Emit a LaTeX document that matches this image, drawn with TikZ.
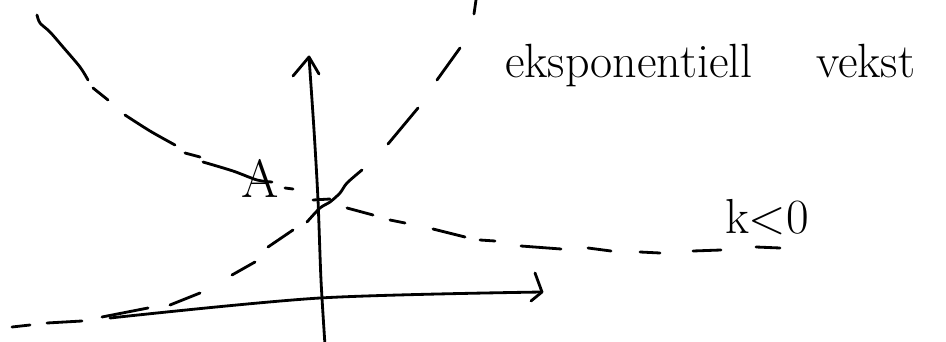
\documentclass[tikz,border=0pt]{standalone}
\tikzset{pen/.style={line width=2.4pt, line cap=round, line join=round},
  hand/.style={inner sep=0pt, outer sep=0pt}}
\begin{document}
\begin{tikzpicture}[x=0.03cm,y=-0.03cm]
\useasboundingbox (0,0) rectangle (946,342);
\clip (0,0) rectangle (946,342);
% vertical axis
\coordinate (ybot) at (325,345);
\coordinate (ytip) at (309,57);
\draw[pen] plot[smooth] coordinates {(ybot) (321,280) (318,200) (314,130) (ytip)};
\draw[pen] (293,76) -- (ytip) -- (319,74);
% horizontal axis
\coordinate (xstart) at (110,318);
\coordinate (xtip) at (542,292);
\draw[pen] plot[smooth] coordinates {(xstart) (320,298) (xtip)};
\draw[pen] (535,273) -- (xtip) -- (531,301);
% decreasing curve (k<0)
\draw[pen] plot[smooth] coordinates {(37,15) (40,23) (50,32) (63,47) (80,67) (88,80)};
\draw[pen] (93,88) -- (108,100);
\draw[pen] plot[smooth] coordinates {(125,115) (150,131) (175,145)};
\draw[pen] (185,153) -- (200,157);
\draw[pen] plot[smooth] coordinates {(203,162) (233,171) (257,180) (272,182)};
\draw[pen] (285,188) -- (293,189);
\draw[pen] (313,200) -- (330,199);
\draw[pen] (347,208) -- (373,215);
\draw[pen] (390,220) -- (405,223);
\draw[pen] (433,229) -- (465,237);
\draw[pen] (480,240) -- (495,241);
\draw[pen] (521,246) -- (561,249);
\draw[pen] (588,248) -- (611,251);
\draw[pen] (640,252) -- (660,253);
\draw[pen] (693,251) -- (721,250);
\draw[pen] (756,247) -- (780,248);
% increasing curve (exponential growth)
\draw[pen] (12,327) -- (30,325);
\draw[pen] (47,323) -- (82,321);
\draw[pen] (102,317) -- (148,308);
\draw[pen] (170,305) -- (200,293);
\draw[pen] (232,275) -- (255,262);
\draw[pen] (268,247) -- (293,230);
\draw[pen] plot[smooth] coordinates {(307,222) (320,208) (330,202) (340,193) (347,183) (362,170)};
\draw[pen] (388,144) -- (418,108);
\draw[pen] (437,80) -- (460,48);
\draw[pen] (474,14) -- (476,0);
% labels
\node[hand, anchor=center, font=\fontsize{46}{46}\selectfont] (A) at (260,178) {A};
\node[hand, anchor=base west, font=\fontsize{41}{41}\selectfont] (t1) at (505,78) {eksponentiell};
\node[hand, anchor=base west, font=\fontsize{41}{41}\selectfont] (t2) at (816,78) {vekst};
\node[hand, anchor=base west, font=\fontsize{42}{42}\selectfont] (k) at (725,233) {k<0};
\end{tikzpicture}
\end{document}
